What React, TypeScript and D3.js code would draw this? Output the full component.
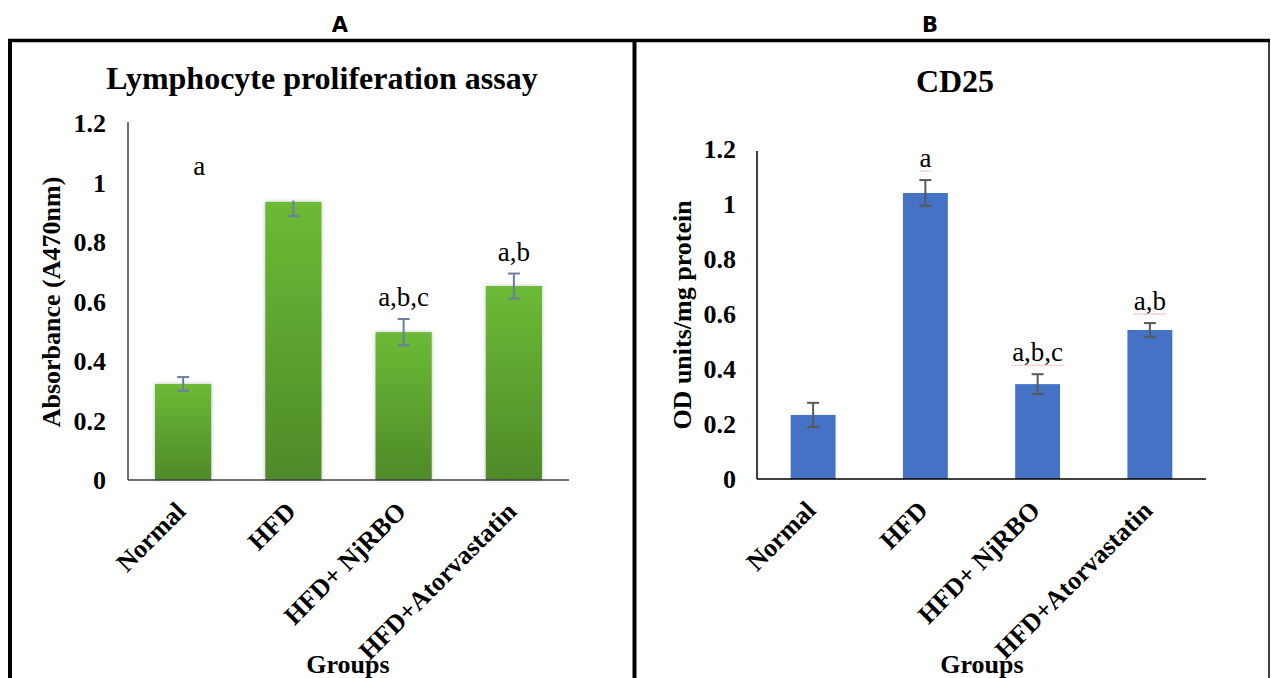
import React from "react";
import * as d3 from "d3";

const groups = ["Normal", "HFD", "HFD+ NjRBO", "HFD+Atorvastatin"];
const yTicks = [0, 0.2, 0.4, 0.6, 0.8, 1, 1.2];
const yTickLabels = ["0", "0.2", "0.4", "0.6", "0.8", "1", "1.2"];

const lymphValues = [0.323, 0.935, 0.497, 0.652];
const lymphErrUp = [0.023, 0.004, 0.044, 0.042];
const lymphErrDown = [0.023, 0.048, 0.044, 0.042];
const lymphLetters = ["a", "", "a,b,c", "a,b"];

const cd25Values = [0.233, 1.04, 0.345, 0.542];
const cd25ErrUp = [0.044, 0.047, 0.036, 0.025];
const cd25ErrDown = [0.044, 0.047, 0.036, 0.025];
const cd25Letters = ["", "a", "a,b,c", "a,b"];

const SERIF = "'Liberation Serif', 'Times New Roman', serif";
const SANS = "'DejaVu Sans', Arial, sans-serif";

type PanelProps = {
  title: string;
  yLabel: string;
  values: number[];
  errUp: number[];
  errDown: number[];
  letters: string[];
  x0: number;
  x1: number;
  yZero: number;
  yTop: number;
  axisTop: number;
  padding: number;
  fill: string;
  errColor: string;
  axisColor: string;
  titleX: number;
  titleY: number;
  yLabelX: number;
  yLabelY: number;
  tickX: number;
  groupsX: number;
  letterSize: number;
  special: boolean;
  spellUnderline: boolean;
};

function Panel(p: PanelProps) {
  const x = d3
    .scaleBand<string>()
    .domain(groups)
    .range([p.x0, p.x1])
    .paddingInner(p.padding)
    .paddingOuter(p.padding / 2);
  const y = d3.scaleLinear().domain([0, 1.2]).range([p.yZero, p.yTop]);
  const bw = x.bandwidth();
  return (
    <g>
      <text x={p.titleX} y={p.titleY} textAnchor="middle" fontFamily={SERIF} fontWeight="bold" fontSize={32}>
        {p.title}
      </text>
      <text
        transform={`translate(${p.yLabelX},${p.yLabelY}) rotate(-90)`}
        textAnchor="middle"
        fontFamily={SERIF}
        fontWeight="bold"
        fontSize={26}
      >
        {p.yLabel}
      </text>
      {yTicks.map((t, i) => (
        <text key={i} x={p.tickX} y={y(t)} dy="0.35em" textAnchor="end" fontFamily={SERIF} fontWeight="bold" fontSize={26}>
          {yTickLabels[i]}
        </text>
      ))}
      {groups.map((g, i) => {
        const bx = x(g)!;
        const v = p.values[i];
        const cx = bx + bw / 2;
        const yt = y(v + p.errUp[i]);
        const yb = y(v - p.errDown[i]);
        return (
          <g key={g}>
            <rect
              x={bx}
              y={y(v)}
              width={bw}
              height={p.yZero - y(v)}
              fill={p.fill}
              filter={p.special ? "url(#shadow)" : undefined}
            />
            <line x1={cx} x2={cx} y1={yt} y2={yb} stroke={p.errColor} strokeWidth={2} />
            {p.errUp[i] > 0.01 && (
              <line x1={cx - 6} x2={cx + 6} y1={yt} y2={yt} stroke={p.errColor} strokeWidth={2} />
            )}
            <line x1={cx - 6} x2={cx + 6} y1={yb} y2={yb} stroke={p.errColor} strokeWidth={2} />
          </g>
        );
      })}
      {groups.map((g, i) => {
        if (!p.letters[i]) return null;
        const cx = x(g)! + bw / 2;
        const isFloating = p.special && i === 0;
        const lx = isFloating ? cx + 16 : cx;
        const ly = isFloating ? y(1.025) : y(p.values[i] + p.errUp[i]) - 13;
        const w = p.letters[i].length * 10.5;
        return (
          <g key={"l" + g}>
            <text x={lx} y={ly} textAnchor="middle" fontFamily={SERIF} fontSize={p.letterSize} fill="#000">
              {p.letters[i]}
            </text>
            {p.spellUnderline && (
              <line x1={lx - w / 2} x2={lx + w / 2} y1={ly + 4} y2={ly + 4} stroke="#f2a0a0" strokeWidth={1} strokeDasharray="2,1" />
            )}
          </g>
        );
      })}
      <line x1={p.x0} x2={p.x0} y1={p.axisTop} y2={p.yZero} stroke={p.axisColor} strokeWidth={1.5} />
      <line x1={p.x0} x2={p.x1} y1={p.yZero} y2={p.yZero} stroke={p.axisColor} strokeWidth={1.5} />
      {groups.map((g) => {
        const cx = x(g)! + bw / 2;
        return (
          <text
            key={"t" + g}
            transform={`translate(${cx + 4},${p.yZero + 33}) rotate(-45)`}
            textAnchor="end"
            fontFamily={SERIF}
            fontWeight="bold"
            fontSize={26}
          >
            {g}
          </text>
        );
      })}
      <text x={p.groupsX} y={673} textAnchor="middle" fontFamily={SERIF} fontWeight="bold" fontSize={26}>
        Groups
      </text>
    </g>
  );
}

export default function App() {
  return (
    <svg
      width={1271}
      height={678}
      style={{ position: "absolute", left: 0, top: 0, background: "#fff" }}
    >
      <defs>
        <linearGradient id="greenGrad" x1="0" y1="0" x2="0" y2="1">
          <stop offset="0%" stopColor="#6cba35" />
          <stop offset="100%" stopColor="#4f8a2a" />
        </linearGradient>
        <filter id="shadow" x="-20%" y="-5%" width="140%" height="110%">
          <feDropShadow dx="0" dy="0" stdDeviation="2" floodColor="#000" floodOpacity="0.25" />
        </filter>
      </defs>
      <rect x={0} y={0} width={1271} height={678} fill="#fff" />
      <text x={340} y={32} textAnchor="middle" fontFamily={SANS} fontWeight="bold" fontSize={21}>
        A
      </text>
      <text x={930} y={32} textAnchor="middle" fontFamily={SANS} fontWeight="bold" fontSize={21}>
        B
      </text>
      <line x1={8} x2={1270} y1={40.5} y2={40.5} stroke="#000" strokeWidth={3.5} />
      <line x1={10} x2={10} y1={39} y2={678} stroke="#000" strokeWidth={4} />
      <line x1={634.5} x2={634.5} y1={39} y2={678} stroke="#000" strokeWidth={4} />
      <line x1={1269} x2={1269} y1={39} y2={678} stroke="#000" strokeWidth={1.5} />
      <Panel
        title="Lymphocyte proliferation assay"
        yLabel="Absorbance (A470nm)"
        values={lymphValues}
        errUp={lymphErrUp}
        errDown={lymphErrDown}
        letters={lymphLetters}
        x0={128}
        x1={569}
        yZero={480}
        yTop={123}
        axisTop={122}
        padding={0.49}
        fill="url(#greenGrad)"
        errColor="#6a7fa0"
        axisColor="#404040"
        titleX={322}
        titleY={89}
        yLabelX={60}
        yLabelY={302}
        tickX={106}
        groupsX={348}
        letterSize={27}
        special={true}
        spellUnderline={false}
      />
      <Panel
        title="CD25"
        yLabel="OD units/mg protein"
        values={cd25Values}
        errUp={cd25ErrUp}
        errDown={cd25ErrDown}
        letters={cd25Letters}
        x0={757}
        x1={1206}
        yZero={479}
        yTop={149}
        axisTop={151}
        padding={0.6}
        fill="#4472c4"
        errColor="#595959"
        axisColor="#000"
        titleX={955}
        titleY={92}
        yLabelX={691}
        yLabelY={315}
        tickX={736}
        groupsX={982}
        letterSize={27}
        special={false}
        spellUnderline={true}
      />
    </svg>
  );
}
